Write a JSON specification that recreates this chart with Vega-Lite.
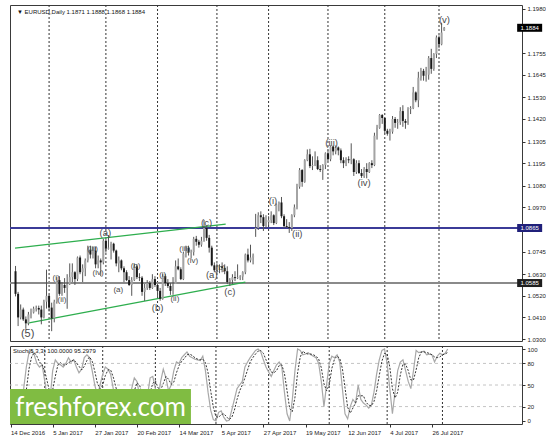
{
"$schema":"https://vega.github.io/schema/vega-lite/v6.json",
"background":"white",
"padding":{"left":7,"top":4,"right":0,"bottom":0},
"spacing":2,
"config":{"view":{"stroke":"#3a3a3a","strokeWidth":1},"font":"Liberation Sans","axis":{"labelOverlap":false,"labelSeparation":0}},
"datasets":{
"bars":[
{"t":"2016-12-14","o":1.0645,"h":1.0672,"l":1.0517,"c":1.0530,"k":30,"s":32},
{"t":"2016-12-15","o":1.0530,"h":1.0540,"l":1.0366,"c":1.0410,"k":15,"s":22},
{"t":"2016-12-16","o":1.0410,"h":1.0476,"l":1.0400,"c":1.0450,"k":12,"s":19},
{"t":"2016-12-19","o":1.0450,"h":1.0460,"l":1.0392,"c":1.0400,"k":15,"s":14},
{"t":"2016-12-20","o":1.0400,"h":1.0415,"l":1.0352,"c":1.0380,"k":10,"s":12},
{"t":"2016-12-21","o":1.0380,"h":1.0438,"l":1.0370,"c":1.0425,"k":45,"s":23},
{"t":"2016-12-22","o":1.0425,"h":1.0455,"l":1.0405,"c":1.0435,"k":75,"s":43},
{"t":"2016-12-23","o":1.0435,"h":1.0465,"l":1.0430,"c":1.0455,"k":95,"s":72},
{"t":"2016-12-26","o":1.0455,"h":1.0470,"l":1.0440,"c":1.0458,"k":98,"s":89},
{"t":"2016-12-27","o":1.0458,"h":1.0470,"l":1.0425,"c":1.0450,"k":92,"s":95},
{"t":"2016-12-28","o":1.0450,"h":1.0470,"l":1.0375,"c":1.0410,"k":80,"s":90},
{"t":"2016-12-29","o":1.0410,"h":1.0500,"l":1.0405,"c":1.0490,"k":75,"s":82},
{"t":"2016-12-30","o":1.0490,"h":1.0653,"l":1.0455,"c":1.0520,"k":78,"s":78},
{"t":"2017-01-02","o":1.0520,"h":1.0525,"l":1.0440,"c":1.0460,"k":55,"s":69},
{"t":"2017-01-03","o":1.0460,"h":1.0485,"l":1.0340,"c":1.0405,"k":30,"s":54},
{"t":"2017-01-04","o":1.0405,"h":1.0500,"l":1.0385,"c":1.0490,"k":30,"s":38},
{"t":"2017-01-05","o":1.0490,"h":1.0615,"l":1.0480,"c":1.0600,"k":70,"s":43},
{"t":"2017-01-06","o":1.0600,"h":1.0620,"l":1.0520,"c":1.0530,"k":85,"s":62},
{"t":"2017-01-09","o":1.0530,"h":1.0590,"l":1.0520,"c":1.0575,"k":80,"s":78},
{"t":"2017-01-10","o":1.0575,"h":1.0610,"l":1.0535,"c":1.0560,"k":78,"s":81},
{"t":"2017-01-11","o":1.0560,"h":1.0630,"l":1.0454,"c":1.0580,"k":75,"s":78},
{"t":"2017-01-12","o":1.0580,"h":1.0685,"l":1.0575,"c":1.0615,"k":80,"s":78},
{"t":"2017-01-13","o":1.0615,"h":1.0685,"l":1.0590,"c":1.0640,"k":88,"s":81},
{"t":"2017-01-16","o":1.0640,"h":1.0645,"l":1.0575,"c":1.0605,"k":82,"s":83},
{"t":"2017-01-17","o":1.0605,"h":1.0720,"l":1.0595,"c":1.0715,"k":85,"s":85},
{"t":"2017-01-18","o":1.0715,"h":1.0725,"l":1.0630,"c":1.0640,"k":75,"s":81},
{"t":"2017-01-19","o":1.0640,"h":1.0680,"l":1.0590,"c":1.0660,"k":67,"s":76},
{"t":"2017-01-20","o":1.0660,"h":1.0710,"l":1.0620,"c":1.0700,"k":72,"s":71},
{"t":"2017-01-23","o":1.0700,"h":1.0775,"l":1.0690,"c":1.0755,"k":88,"s":76},
{"t":"2017-01-24","o":1.0755,"h":1.0775,"l":1.0710,"c":1.0730,"k":92,"s":84},
{"t":"2017-01-25","o":1.0730,"h":1.0770,"l":1.0710,"c":1.0750,"k":88,"s":89},
{"t":"2017-01-26","o":1.0750,"h":1.0770,"l":1.0660,"c":1.0680,"k":70,"s":83},
{"t":"2017-01-27","o":1.0680,"h":1.0725,"l":1.0660,"c":1.0700,"k":50,"s":69},
{"t":"2017-01-30","o":1.0700,"h":1.0710,"l":1.0620,"c":1.0690,"k":35,"s":52},
{"t":"2017-01-31","o":1.0690,"h":1.0810,"l":1.0680,"c":1.0800,"k":50,"s":45},
{"t":"2017-02-01","o":1.0800,"h":1.0810,"l":1.0740,"c":1.0760,"k":65,"s":50},
{"t":"2017-02-02","o":1.0760,"h":1.0829,"l":1.0755,"c":1.0765,"k":75,"s":63},
{"t":"2017-02-03","o":1.0765,"h":1.0795,"l":1.0705,"c":1.0785,"k":72,"s":71},
{"t":"2017-02-06","o":1.0785,"h":1.0790,"l":1.0740,"c":1.0750,"k":65,"s":71},
{"t":"2017-02-07","o":1.0750,"h":1.0755,"l":1.0670,"c":1.0685,"k":45,"s":61},
{"t":"2017-02-08","o":1.0685,"h":1.0720,"l":1.0640,"c":1.0700,"k":30,"s":47},
{"t":"2017-02-09","o":1.0700,"h":1.0705,"l":1.0650,"c":1.0660,"k":25,"s":33},
{"t":"2017-02-10","o":1.0660,"h":1.0670,"l":1.0590,"c":1.0640,"k":20,"s":25},
{"t":"2017-02-13","o":1.0640,"h":1.0650,"l":1.0595,"c":1.0600,"k":15,"s":20},
{"t":"2017-02-14","o":1.0600,"h":1.0620,"l":1.0570,"c":1.0575,"k":12,"s":16},
{"t":"2017-02-15","o":1.0575,"h":1.0615,"l":1.0520,"c":1.0600,"k":20,"s":16},
{"t":"2017-02-16","o":1.0600,"h":1.0680,"l":1.0595,"c":1.0670,"k":45,"s":26},
{"t":"2017-02-17","o":1.0670,"h":1.0680,"l":1.0605,"c":1.0615,"k":60,"s":42},
{"t":"2017-02-20","o":1.0615,"h":1.0635,"l":1.0595,"c":1.0612,"k":55,"s":53},
{"t":"2017-02-21","o":1.0612,"h":1.0620,"l":1.0520,"c":1.0540,"k":35,"s":50},
{"t":"2017-02-22","o":1.0540,"h":1.0580,"l":1.0494,"c":1.0560,"k":20,"s":37},
{"t":"2017-02-23","o":1.0560,"h":1.0600,"l":1.0550,"c":1.0585,"k":25,"s":27},
{"t":"2017-02-24","o":1.0585,"h":1.0595,"l":1.0550,"c":1.0560,"k":35,"s":27},
{"t":"2017-02-27","o":1.0560,"h":1.0630,"l":1.0555,"c":1.0605,"k":60,"s":40},
{"t":"2017-02-28","o":1.0605,"h":1.0620,"l":1.0565,"c":1.0575,"k":62,"s":52},
{"t":"2017-03-01","o":1.0575,"h":1.0580,"l":1.0510,"c":1.0545,"k":45,"s":56},
{"t":"2017-03-02","o":1.0545,"h":1.0560,"l":1.0495,"c":1.0505,"k":30,"s":46},
{"t":"2017-03-03","o":1.0505,"h":1.0630,"l":1.0500,"c":1.0620,"k":55,"s":43},
{"t":"2017-03-06","o":1.0620,"h":1.0630,"l":1.0570,"c":1.0585,"k":72,"s":52},
{"t":"2017-03-07","o":1.0585,"h":1.0605,"l":1.0560,"c":1.0570,"k":60,"s":62},
{"t":"2017-03-08","o":1.0570,"h":1.0585,"l":1.0525,"c":1.0545,"k":42,"s":58},
{"t":"2017-03-09","o":1.0545,"h":1.0615,"l":1.0525,"c":1.0580,"k":50,"s":51},
{"t":"2017-03-10","o":1.0580,"h":1.0700,"l":1.0580,"c":1.0670,"k":70,"s":54},
{"t":"2017-03-13","o":1.0670,"h":1.0710,"l":1.0650,"c":1.0655,"k":82,"s":67},
{"t":"2017-03-14","o":1.0655,"h":1.0665,"l":1.0600,"c":1.0605,"k":80,"s":77},
{"t":"2017-03-15","o":1.0605,"h":1.0745,"l":1.0600,"c":1.0735,"k":88,"s":83},
{"t":"2017-03-16","o":1.0735,"h":1.0775,"l":1.0715,"c":1.0765,"k":92,"s":87},
{"t":"2017-03-17","o":1.0765,"h":1.0775,"l":1.0725,"c":1.0740,"k":96,"s":92},
{"t":"2017-03-20","o":1.0740,"h":1.0755,"l":1.0710,"c":1.0742,"k":90,"s":93},
{"t":"2017-03-21","o":1.0742,"h":1.0820,"l":1.0725,"c":1.0810,"k":88,"s":91},
{"t":"2017-03-22","o":1.0810,"h":1.0825,"l":1.0775,"c":1.0795,"k":86,"s":88},
{"t":"2017-03-23","o":1.0795,"h":1.0805,"l":1.0765,"c":1.0780,"k":85,"s":86},
{"t":"2017-03-24","o":1.0780,"h":1.0820,"l":1.0770,"c":1.0800,"k":84,"s":85},
{"t":"2017-03-27","o":1.0800,"h":1.0906,"l":1.0795,"c":1.0865,"k":90,"s":86},
{"t":"2017-03-28","o":1.0865,"h":1.0875,"l":1.0800,"c":1.0815,"k":70,"s":81},
{"t":"2017-03-29","o":1.0815,"h":1.0830,"l":1.0740,"c":1.0765,"k":40,"s":67},
{"t":"2017-03-30","o":1.0765,"h":1.0775,"l":1.0670,"c":1.0675,"k":15,"s":42},
{"t":"2017-03-31","o":1.0675,"h":1.0690,"l":1.0640,"c":1.0650,"k":2,"s":19},
{"t":"2017-04-03","o":1.0650,"h":1.0685,"l":1.0635,"c":1.0665,"k":0,"s":6},
{"t":"2017-04-04","o":1.0665,"h":1.0680,"l":1.0635,"c":1.0670,"k":12,"s":5},
{"t":"2017-04-05","o":1.0670,"h":1.0690,"l":1.0640,"c":1.0662,"k":14,"s":9},
{"t":"2017-04-06","o":1.0662,"h":1.0680,"l":1.0630,"c":1.0645,"k":5,"s":10},
{"t":"2017-04-07","o":1.0645,"h":1.0670,"l":1.0580,"c":1.0590,"k":0,"s":6},
{"t":"2017-04-10","o":1.0590,"h":1.0610,"l":1.0570,"c":1.0600,"k":1,"s":2},
{"t":"2017-04-11","o":1.0600,"h":1.0630,"l":1.0580,"c":1.0615,"k":15,"s":5},
{"t":"2017-04-12","o":1.0615,"h":1.0645,"l":1.0595,"c":1.0610,"k":30,"s":15},
{"t":"2017-04-13","o":1.0610,"h":1.0680,"l":1.0605,"c":1.0614,"k":45,"s":30},
{"t":"2017-04-14","o":1.0614,"h":1.0625,"l":1.0600,"c":1.0618,"k":50,"s":42},
{"t":"2017-04-17","o":1.0618,"h":1.0645,"l":1.0600,"c":1.0640,"k":55,"s":50},
{"t":"2017-04-18","o":1.0640,"h":1.0735,"l":1.0630,"c":1.0730,"k":75,"s":60},
{"t":"2017-04-19","o":1.0730,"h":1.0760,"l":1.0690,"c":1.0700,"k":82,"s":71},
{"t":"2017-04-20","o":1.0700,"h":1.0780,"l":1.0690,"c":1.0715,"k":88,"s":82},
{"t":"2017-04-21","o":1.0715,"h":1.0735,"l":1.0680,"c":1.0725,"k":93,"s":88},
{"t":"2017-04-24","o":1.0860,"h":1.0937,"l":1.0820,"c":1.0865,"k":98,"s":93},
{"t":"2017-04-25","o":1.0865,"h":1.0945,"l":1.0855,"c":1.0930,"k":100,"s":97},
{"t":"2017-04-26","o":1.0930,"h":1.0950,"l":1.0890,"c":1.0920,"k":96,"s":98},
{"t":"2017-04-27","o":1.0920,"h":1.0935,"l":1.0850,"c":1.0875,"k":85,"s":94},
{"t":"2017-04-28","o":1.0875,"h":1.0930,"l":1.0865,"c":1.0895,"k":75,"s":85},
{"t":"2017-05-01","o":1.0895,"h":1.0925,"l":1.0880,"c":1.0905,"k":68,"s":76},
{"t":"2017-05-02","o":1.0905,"h":1.0950,"l":1.0890,"c":1.0930,"k":62,"s":68},
{"t":"2017-05-03","o":1.0930,"h":1.0935,"l":1.0880,"c":1.0890,"k":70,"s":67},
{"t":"2017-05-04","o":1.0890,"h":1.0990,"l":1.0885,"c":1.0985,"k":78,"s":70},
{"t":"2017-05-05","o":1.0985,"h":1.1000,"l":1.0950,"c":1.0995,"k":82,"s":77},
{"t":"2017-05-08","o":1.0995,"h":1.1023,"l":1.0915,"c":1.0925,"k":75,"s":78},
{"t":"2017-05-09","o":1.0925,"h":1.0935,"l":1.0865,"c":1.0875,"k":40,"s":66},
{"t":"2017-05-10","o":1.0875,"h":1.0910,"l":1.0865,"c":1.0870,"k":10,"s":42},
{"t":"2017-05-11","o":1.0870,"h":1.0895,"l":1.0840,"c":1.0865,"k":0,"s":17},
{"t":"2017-05-12","o":1.0865,"h":1.0935,"l":1.0850,"c":1.0930,"k":30,"s":13},
{"t":"2017-05-15","o":1.0930,"h":1.0985,"l":1.0920,"c":1.0970,"k":70,"s":33},
{"t":"2017-05-16","o":1.0970,"h":1.1090,"l":1.0960,"c":1.1075,"k":100,"s":67},
{"t":"2017-05-17","o":1.1075,"h":1.1170,"l":1.1065,"c":1.1160,"k":98,"s":89},
{"t":"2017-05-18","o":1.1160,"h":1.1165,"l":1.1075,"c":1.1100,"k":92,"s":97},
{"t":"2017-05-19","o":1.1100,"h":1.1215,"l":1.1095,"c":1.1210,"k":93,"s":94},
{"t":"2017-05-22","o":1.1210,"h":1.1265,"l":1.1205,"c":1.1240,"k":95,"s":93},
{"t":"2017-05-23","o":1.1240,"h":1.1268,"l":1.1170,"c":1.1180,"k":92,"s":93},
{"t":"2017-05-24","o":1.1180,"h":1.1230,"l":1.1160,"c":1.1185,"k":90,"s":92},
{"t":"2017-05-25","o":1.1185,"h":1.1255,"l":1.1180,"c":1.1210,"k":88,"s":90},
{"t":"2017-05-26","o":1.1210,"h":1.1230,"l":1.1160,"c":1.1165,"k":80,"s":86},
{"t":"2017-05-29","o":1.1165,"h":1.1185,"l":1.1150,"c":1.1160,"k":55,"s":74},
{"t":"2017-05-30","o":1.1160,"h":1.1190,"l":1.1110,"c":1.1185,"k":20,"s":52},
{"t":"2017-05-31","o":1.1185,"h":1.1250,"l":1.1165,"c":1.1245,"k":50,"s":42},
{"t":"2017-06-01","o":1.1245,"h":1.1260,"l":1.1205,"c":1.1215,"k":80,"s":50},
{"t":"2017-06-02","o":1.1215,"h":1.1285,"l":1.1205,"c":1.1280,"k":90,"s":73},
{"t":"2017-06-05","o":1.1280,"h":1.1285,"l":1.1235,"c":1.1255,"k":88,"s":86},
{"t":"2017-06-06","o":1.1255,"h":1.1285,"l":1.1240,"c":1.1275,"k":92,"s":90},
{"t":"2017-06-07","o":1.1275,"h":1.1280,"l":1.1235,"c":1.1260,"k":82,"s":87},
{"t":"2017-06-08","o":1.1260,"h":1.1270,"l":1.1195,"c":1.1210,"k":45,"s":73},
{"t":"2017-06-09","o":1.1210,"h":1.1225,"l":1.1170,"c":1.1195,"k":10,"s":46},
{"t":"2017-06-12","o":1.1195,"h":1.1225,"l":1.1180,"c":1.1215,"k":3,"s":19},
{"t":"2017-06-13","o":1.1215,"h":1.1230,"l":1.1195,"c":1.1210,"k":20,"s":11},
{"t":"2017-06-14","o":1.1210,"h":1.1296,"l":1.1190,"c":1.1215,"k":30,"s":18},
{"t":"2017-06-15","o":1.1215,"h":1.1220,"l":1.1130,"c":1.1150,"k":25,"s":25},
{"t":"2017-06-16","o":1.1150,"h":1.1210,"l":1.1140,"c":1.1195,"k":50,"s":35},
{"t":"2017-06-19","o":1.1195,"h":1.1210,"l":1.1140,"c":1.1145,"k":30,"s":35},
{"t":"2017-06-20","o":1.1145,"h":1.1165,"l":1.1120,"c":1.1130,"k":25,"s":35},
{"t":"2017-06-21","o":1.1130,"h":1.1175,"l":1.1120,"c":1.1165,"k":22,"s":26},
{"t":"2017-06-22","o":1.1165,"h":1.1195,"l":1.1118,"c":1.1150,"k":18,"s":22},
{"t":"2017-06-23","o":1.1150,"h":1.1200,"l":1.1145,"c":1.1195,"k":22,"s":21},
{"t":"2017-06-26","o":1.1195,"h":1.1210,"l":1.1170,"c":1.1185,"k":40,"s":27},
{"t":"2017-06-27","o":1.1185,"h":1.1350,"l":1.1180,"c":1.1335,"k":65,"s":42},
{"t":"2017-06-28","o":1.1335,"h":1.1390,"l":1.1315,"c":1.1375,"k":85,"s":63},
{"t":"2017-06-29","o":1.1375,"h":1.1445,"l":1.1370,"c":1.1440,"k":98,"s":83},
{"t":"2017-06-30","o":1.1440,"h":1.1445,"l":1.1395,"c":1.1425,"k":100,"s":94},
{"t":"2017-07-03","o":1.1425,"h":1.1428,"l":1.1345,"c":1.1360,"k":80,"s":93},
{"t":"2017-07-04","o":1.1360,"h":1.1370,"l":1.1335,"c":1.1345,"k":45,"s":75},
{"t":"2017-07-05","o":1.1345,"h":1.1370,"l":1.1310,"c":1.1355,"k":10,"s":45},
{"t":"2017-07-06","o":1.1355,"h":1.1435,"l":1.1345,"c":1.1420,"k":40,"s":32},
{"t":"2017-07-07","o":1.1420,"h":1.1430,"l":1.1375,"c":1.1400,"k":70,"s":40},
{"t":"2017-07-10","o":1.1400,"h":1.1420,"l":1.1370,"c":1.1403,"k":82,"s":64},
{"t":"2017-07-11","o":1.1403,"h":1.1480,"l":1.1390,"c":1.1460,"k":85,"s":79},
{"t":"2017-07-12","o":1.1460,"h":1.1490,"l":1.1380,"c":1.1410,"k":70,"s":79},
{"t":"2017-07-13","o":1.1410,"h":1.1420,"l":1.1370,"c":1.1400,"k":55,"s":70},
{"t":"2017-07-14","o":1.1400,"h":1.1480,"l":1.1390,"c":1.1470,"k":45,"s":57},
{"t":"2017-07-17","o":1.1470,"h":1.1485,"l":1.1445,"c":1.1475,"k":70,"s":57},
{"t":"2017-07-18","o":1.1475,"h":1.1583,"l":1.1470,"c":1.1555,"k":98,"s":71},
{"t":"2017-07-19","o":1.1555,"h":1.1560,"l":1.1505,"c":1.1515,"k":95,"s":88},
{"t":"2017-07-20","o":1.1515,"h":1.1660,"l":1.1480,"c":1.1630,"k":96,"s":96},
{"t":"2017-07-21","o":1.1630,"h":1.1680,"l":1.1615,"c":1.1665,"k":97,"s":96},
{"t":"2017-07-24","o":1.1665,"h":1.1675,"l":1.1615,"c":1.1640,"k":92,"s":95},
{"t":"2017-07-25","o":1.1640,"h":1.1685,"l":1.1610,"c":1.1645,"k":93,"s":94},
{"t":"2017-07-26","o":1.1645,"h":1.1740,"l":1.1620,"c":1.1730,"k":92,"s":92},
{"t":"2017-07-27","o":1.1730,"h":1.1777,"l":1.1650,"c":1.1675,"k":82,"s":89},
{"t":"2017-07-28","o":1.1675,"h":1.1755,"l":1.1665,"c":1.1750,"k":90,"s":88},
{"t":"2017-07-31","o":1.1750,"h":1.1845,"l":1.1730,"c":1.1835,"k":94,"s":89},
{"t":"2017-08-01","o":1.1835,"h":1.1845,"l":1.1780,"c":1.1800,"k":92,"s":92},
{"t":"2017-08-02","o":1.1800,"h":1.1910,"l":1.1795,"c":1.1860,"k":94,"s":93},
{"t":"2017-08-03","o":1.1871,"h":1.1888,"l":1.1868,"c":1.1884,"k":100,"s":95.2979}
],
"labels":[
{"bar":5.7,"p":1.0325,"txt":"(5)","deg":"A"},
{"bar":16.7,"p":1.0610,"txt":"(i)","deg":"C"},
{"bar":19.0,"p":1.0498,"txt":"(ii)","deg":"C"},
{"bar":30.8,"p":1.0760,"txt":"(iii)","deg":"C"},
{"bar":33.0,"p":1.0637,"txt":"(iv)","deg":"C"},
{"bar":35.8,"p":1.0841,"txt":"(a)","deg":"B"},
{"bar":40.8,"p":1.0548,"txt":"(a)","deg":"C"},
{"bar":47.5,"p":1.0671,"txt":"(b)","deg":"C"},
{"bar":56.0,"p":1.0459,"txt":"(b)","deg":"B"},
{"bar":58.0,"p":1.0626,"txt":"(i)","deg":"C"},
{"bar":62.7,"p":1.0502,"txt":"(ii)","deg":"C"},
{"bar":66.5,"p":1.0757,"txt":"(iii)","deg":"C"},
{"bar":69.6,"p":1.0697,"txt":"(iv)","deg":"C"},
{"bar":75.0,"p":1.0892,"txt":"(c)","deg":"B"},
{"bar":77.0,"p":1.0624,"txt":"(a)","deg":"B"},
{"bar":80.4,"p":1.0663,"txt":"(b)","deg":"C"},
{"bar":84.0,"p":1.0541,"txt":"(c)","deg":"B"},
{"bar":100.7,"p":1.1003,"txt":"(i)","deg":"B"},
{"bar":110.1,"p":1.0834,"txt":"(ii)","deg":"B"},
{"bar":123.4,"p":1.1298,"txt":"(iii)","deg":"B"},
{"bar":136.0,"p":1.1094,"txt":"(iv)","deg":"B"},
{"bar":167.1,"p":1.1924,"txt":"(v)","deg":"B"}
],
"trend":[
{"g":"upper","bar":0.8,"p":1.0763},
{"g":"upper","bar":82.4,"p":1.0885},
{"g":"lower","bar":5.7,"p":1.0381},
{"g":"lower","bar":90.0,"p":1.0590}
],
"levels":[
{"p":1.1884,"k":"price"},
{"p":1.0865,"k":"res"},
{"p":1.0585,"k":"sup"}
]
},
"vconcat":[
{
"width":512,"height":336,
"layer":[
{"data":{"name":"bars"},
 "transform":[{"window":[{"op":"row_number","as":"n"}],"sort":[{"field":"t"}]},{"timeUnit":"utcyearmonth","field":"t","as":"m"},{"window":[{"op":"row_number","as":"r"}],"groupby":["m"],"sort":[{"field":"t"}]},{"filter":"datum.r == 1 && datum.n > 1"}],
 "mark":{"type":"rule","color":"#333333","strokeDash":[2,2],"strokeWidth":1},
 "encoding":{"x":{"field":"n","type":"quantitative","scale":{"domain":[0.8,195.2],"nice":false,"zero":false},"axis":null}}},
{"data":{"name":"levels"},
 "transform":[{"filter":"datum.k != 'price'"}],
 "mark":{"type":"rule","strokeWidth":2},
 "encoding":{"y":{"field":"p","type":"quantitative","scale":{"domain":[1.029,1.2],"nice":false,"zero":false},"axis":{"orient":"right","title":null,"values":[1.03,1.041,1.052,1.063,1.0745,1.097,1.108,1.1195,1.1305,1.142,1.153,1.1645,1.1755,1.198],"format":".4f","grid":false,"domain":false,"tickSize":3,"tickColor":"#333333","labelFontSize":6,"labelColor":"#222222","labelPadding":2,"labelOverlap":false,"labelFlush":false}},"stroke":{"field":"k","type":"nominal","scale":{"domain":["res","sup"],"range":["#3b3b98","#8a8a8a"]},"legend":null}}},
{"data":{"name":"trend"},
 "mark":{"type":"line","color":"#2eae4e","strokeWidth":1.3,"clip":true},
 "encoding":{"x":{"field":"bar","type":"quantitative","axis":null},"y":{"field":"p","type":"quantitative","axis":{"orient":"right","title":null,"values":[1.03,1.041,1.052,1.063,1.0745,1.097,1.108,1.1195,1.1305,1.142,1.153,1.1645,1.1755,1.198],"format":".4f","grid":false,"domain":false,"tickSize":3,"tickColor":"#333333","labelFontSize":6,"labelColor":"#222222","labelPadding":2,"labelOverlap":false,"labelFlush":false}},"detail":{"field":"g"}}},
{"data":{"name":"bars"},
 "transform":[{"window":[{"op":"row_number","as":"n"}],"sort":[{"field":"t"}]}],
 "mark":{"type":"rule","color":"#555555","strokeWidth":1},
 "encoding":{"x":{"field":"n","type":"quantitative","axis":null},"y":{"field":"l","type":"quantitative","axis":{"orient":"right","title":null,"values":[1.03,1.041,1.052,1.063,1.0745,1.097,1.108,1.1195,1.1305,1.142,1.153,1.1645,1.1755,1.198],"format":".4f","grid":false,"domain":false,"tickSize":3,"tickColor":"#333333","labelFontSize":6,"labelColor":"#222222","labelPadding":2,"labelOverlap":false,"labelFlush":false}},"y2":{"field":"h"}}},
{"data":{"name":"bars"},
 "transform":[{"window":[{"op":"row_number","as":"n"}],"sort":[{"field":"t"}]}],
 "mark":{"type":"bar","width":2},
 "encoding":{"x":{"field":"n","type":"quantitative","axis":null},
  "y":{"field":"o","type":"quantitative","axis":{"orient":"right","title":null,"values":[1.03,1.041,1.052,1.063,1.0745,1.097,1.108,1.1195,1.1305,1.142,1.153,1.1645,1.1755,1.198],"format":".4f","grid":false,"domain":false,"tickSize":3,"tickColor":"#333333","labelFontSize":6,"labelColor":"#222222","labelPadding":2,"labelOverlap":false,"labelFlush":false}},"y2":{"field":"c"},
  "color":{"condition":{"test":"datum.c < datum.o","value":"#1a1a1a"},"value":"#a4a4a4"}}},
{"data":{"name":"labels"},
 "mark":{"type":"text","color":"#4a4a4a","align":"center","baseline":"middle"},
 "encoding":{"x":{"field":"bar","type":"quantitative","axis":null},"y":{"field":"p","type":"quantitative","axis":{"orient":"right","title":null,"values":[1.03,1.041,1.052,1.063,1.0745,1.097,1.108,1.1195,1.1305,1.142,1.153,1.1645,1.1755,1.198],"format":".4f","grid":false,"domain":false,"tickSize":3,"tickColor":"#333333","labelFontSize":6,"labelColor":"#222222","labelPadding":2,"labelOverlap":false,"labelFlush":false}},"text":{"field":"txt"},
  "size":{"field":"deg","type":"nominal","scale":{"domain":["A","B","C"],"range":[11,8,6.5]},"legend":null}}},
{"data":{"values":[{"txt":"▼ EURUSD,Daily  1.1871 1.1888 1.1868 1.1884"}]},
 "mark":{"type":"text","align":"left","baseline":"middle","fontSize":6,"color":"#111111"},
 "encoding":{"x":{"datum":1.56,"type":"quantitative","axis":null},"y":{"datum":1.1964,"type":"quantitative","axis":{"orient":"right","title":null,"values":[1.03,1.041,1.052,1.063,1.0745,1.097,1.108,1.1195,1.1305,1.142,1.153,1.1645,1.1755,1.198],"format":".4f","grid":false,"domain":false,"tickSize":3,"tickColor":"#333333","labelFontSize":6,"labelColor":"#222222","labelPadding":2,"labelOverlap":false,"labelFlush":false}},"text":{"field":"txt"}}},
{"data":{"name":"levels"},
 "mark":{"type":"point","filled":true,"opacity":1,"shape":"M-1,-0.32H1V0.32H-1Z","size":625,"strokeWidth":0},
 "encoding":{"x":{"datum":200.1,"type":"quantitative","axis":null},"y":{"field":"p","type":"quantitative","axis":{"orient":"right","title":null,"values":[1.03,1.041,1.052,1.063,1.0745,1.097,1.108,1.1195,1.1305,1.142,1.153,1.1645,1.1755,1.198],"format":".4f","grid":false,"domain":false,"tickSize":3,"tickColor":"#333333","labelFontSize":6,"labelColor":"#222222","labelPadding":2,"labelOverlap":false,"labelFlush":false}},
  "fill":{"field":"k","type":"nominal","scale":{"domain":["price","res","sup"],"range":["#000000","#20207a","#1e1e1e"]},"legend":null}}},
{"data":{"name":"levels"},
 "mark":{"type":"text","color":"white","fontSize":6,"align":"center","baseline":"middle"},
 "encoding":{"x":{"datum":200.1,"type":"quantitative","axis":null},"y":{"field":"p","type":"quantitative","axis":{"orient":"right","title":null,"values":[1.03,1.041,1.052,1.063,1.0745,1.097,1.108,1.1195,1.1305,1.142,1.153,1.1645,1.1755,1.198],"format":".4f","grid":false,"domain":false,"tickSize":3,"tickColor":"#333333","labelFontSize":6,"labelColor":"#222222","labelPadding":2,"labelOverlap":false,"labelFlush":false}},"text":{"field":"p","format":".4f"}}}
]
},
{
"width":512,"height":78,
"layer":[
{"data":{"values":[{"v":20},{"v":50},{"v":80}]},
 "mark":{"type":"rule","color":"#c4c4c4","strokeDash":[3,3],"strokeWidth":1},
 "encoding":{"y":{"field":"v","type":"quantitative","scale":{"domain":[-4.2,104.2],"nice":false,"zero":false},"axis":{"orient":"right","title":null,"values":[0,20,50,80,100],"format":"d","grid":false,"domain":false,"tickSize":3,"tickColor":"#333333","labelFontSize":6,"labelColor":"#222222","labelPadding":2,"labelOverlap":false,"labelFlush":false}}}},
{"data":{"name":"bars"},
 "transform":[{"window":[{"op":"row_number","as":"n"}],"sort":[{"field":"t"}]},{"timeUnit":"utcyearmonth","field":"t","as":"m"},{"window":[{"op":"row_number","as":"r"}],"groupby":["m"],"sort":[{"field":"t"}]},{"filter":"datum.r == 1 && datum.n > 1"}],
 "mark":{"type":"rule","color":"#333333","strokeDash":[2,2],"strokeWidth":1},
 "encoding":{"x":{"field":"n","type":"quantitative","scale":{"domain":[0.8,195.2],"nice":false,"zero":false},"axis":{"orient":"bottom","title":null,"values":[1,17,33,49,65,81,97,113,129,145,161],"labelExpr":"['14 Dec 2016','5 Jan 2017','27 Jan 2017','20 Feb 2017','14 Mar 2017','5 Apr 2017','27 Apr 2017','19 May 2017','12 Jun 2017','4 Jul 2017','26 Jul 2017'][round((datum.value-1)/16)]","labelAlign":"left","labelFontSize":6,"labelColor":"#222222","tickSize":3,"tickColor":"#333333","domain":false,"grid":false,"labelPadding":2,"labelFlush":false,"labelOverlap":false,"labelBound":false}}}},
{"data":{"name":"bars"},
 "transform":[{"window":[{"op":"row_number","as":"n"}],"sort":[{"field":"t"}]}],
 "mark":{"type":"line","color":"#a8a8a8","strokeWidth":1.2},
 "encoding":{"x":{"field":"n","type":"quantitative","axis":{"orient":"bottom","title":null,"values":[1,17,33,49,65,81,97,113,129,145,161],"labelExpr":"['14 Dec 2016','5 Jan 2017','27 Jan 2017','20 Feb 2017','14 Mar 2017','5 Apr 2017','27 Apr 2017','19 May 2017','12 Jun 2017','4 Jul 2017','26 Jul 2017'][round((datum.value-1)/16)]","labelAlign":"left","labelFontSize":6,"labelColor":"#222222","tickSize":3,"tickColor":"#333333","domain":false,"grid":false,"labelPadding":2,"labelFlush":false,"labelOverlap":false,"labelBound":false}},
  "y":{"field":"k","type":"quantitative","axis":{"orient":"right","title":null,"values":[0,20,50,80,100],"format":"d","grid":false,"domain":false,"tickSize":3,"tickColor":"#333333","labelFontSize":6,"labelColor":"#222222","labelPadding":2,"labelOverlap":false,"labelFlush":false}}}},
{"data":{"name":"bars"},
 "transform":[{"window":[{"op":"row_number","as":"n"}],"sort":[{"field":"t"}]}],
 "mark":{"type":"line","color":"#333333","strokeWidth":1,"strokeDash":[2,1.5]},
 "encoding":{"x":{"field":"n","type":"quantitative","axis":{"orient":"bottom","title":null,"values":[1,17,33,49,65,81,97,113,129,145,161],"labelExpr":"['14 Dec 2016','5 Jan 2017','27 Jan 2017','20 Feb 2017','14 Mar 2017','5 Apr 2017','27 Apr 2017','19 May 2017','12 Jun 2017','4 Jul 2017','26 Jul 2017'][round((datum.value-1)/16)]","labelAlign":"left","labelFontSize":6,"labelColor":"#222222","tickSize":3,"tickColor":"#333333","domain":false,"grid":false,"labelPadding":2,"labelFlush":false,"labelOverlap":false,"labelBound":false}},
  "y":{"field":"s","type":"quantitative","axis":{"orient":"right","title":null,"values":[0,20,50,80,100],"format":"d","grid":false,"domain":false,"tickSize":3,"tickColor":"#333333","labelFontSize":6,"labelColor":"#222222","labelPadding":2,"labelOverlap":false,"labelFlush":false}}}},
{"data":{"values":[{"txt":"Stoch(5,3,3) 100.0000 95.2979"}]},
 "mark":{"type":"text","align":"left","baseline":"middle","fontSize":6,"color":"#111111"},
 "encoding":{"x":{"datum":1.94,"type":"quantitative","axis":{"orient":"bottom","title":null,"values":[1,17,33,49,65,81,97,113,129,145,161],"labelExpr":"['14 Dec 2016','5 Jan 2017','27 Jan 2017','20 Feb 2017','14 Mar 2017','5 Apr 2017','27 Apr 2017','19 May 2017','12 Jun 2017','4 Jul 2017','26 Jul 2017'][round((datum.value-1)/16)]","labelAlign":"left","labelFontSize":6,"labelColor":"#222222","tickSize":3,"tickColor":"#333333","domain":false,"grid":false,"labelPadding":2,"labelFlush":false,"labelOverlap":false,"labelBound":false}},
  "y":{"datum":97.2,"type":"quantitative","axis":{"orient":"right","title":null,"values":[0,20,50,80,100],"format":"d","grid":false,"domain":false,"tickSize":3,"tickColor":"#333333","labelFontSize":6,"labelColor":"#222222","labelPadding":2,"labelOverlap":false,"labelFlush":false}},"text":{"field":"txt"}}},
{"data":{"values":[{"brand":"freshforex.com"}]},
 "mark":{"type":"rect","color":"#80bc42","opacity":1},
 "encoding":{"x":{"datum":0.8,"type":"quantitative","axis":{"orient":"bottom","title":null,"values":[1,17,33,49,65,81,97,113,129,145,161],"labelExpr":"['14 Dec 2016','5 Jan 2017','27 Jan 2017','20 Feb 2017','14 Mar 2017','5 Apr 2017','27 Apr 2017','19 May 2017','12 Jun 2017','4 Jul 2017','26 Jul 2017'][round((datum.value-1)/16)]","labelAlign":"left","labelFontSize":6,"labelColor":"#222222","tickSize":3,"tickColor":"#333333","domain":false,"grid":false,"labelPadding":2,"labelFlush":false,"labelOverlap":false,"labelBound":false}},"x2":{"datum":69.5},
  "y":{"datum":44.4,"type":"quantitative","axis":{"orient":"right","title":null,"values":[0,20,50,80,100],"format":"d","grid":false,"domain":false,"tickSize":3,"tickColor":"#333333","labelFontSize":6,"labelColor":"#222222","labelPadding":2,"labelOverlap":false,"labelFlush":false}},"y2":{"datum":-4.2}}},
{"data":{"values":[{"brand":"freshforex.com"}]},
 "mark":{"type":"text","color":"white","font":"Lato","fontSize":26,"align":"center","baseline":"alphabetic"},
 "encoding":{"x":{"datum":35.2,"type":"quantitative","axis":{"orient":"bottom","title":null,"values":[1,17,33,49,65,81,97,113,129,145,161],"labelExpr":"['14 Dec 2016','5 Jan 2017','27 Jan 2017','20 Feb 2017','14 Mar 2017','5 Apr 2017','27 Apr 2017','19 May 2017','12 Jun 2017','4 Jul 2017','26 Jul 2017'][round((datum.value-1)/16)]","labelAlign":"left","labelFontSize":6,"labelColor":"#222222","tickSize":3,"tickColor":"#333333","domain":false,"grid":false,"labelPadding":2,"labelFlush":false,"labelOverlap":false,"labelBound":false}},
  "y":{"datum":6.9,"type":"quantitative","axis":{"orient":"right","title":null,"values":[0,20,50,80,100],"format":"d","grid":false,"domain":false,"tickSize":3,"tickColor":"#333333","labelFontSize":6,"labelColor":"#222222","labelPadding":2,"labelOverlap":false,"labelFlush":false}},"text":{"field":"brand"}}}
]
}
]
}
